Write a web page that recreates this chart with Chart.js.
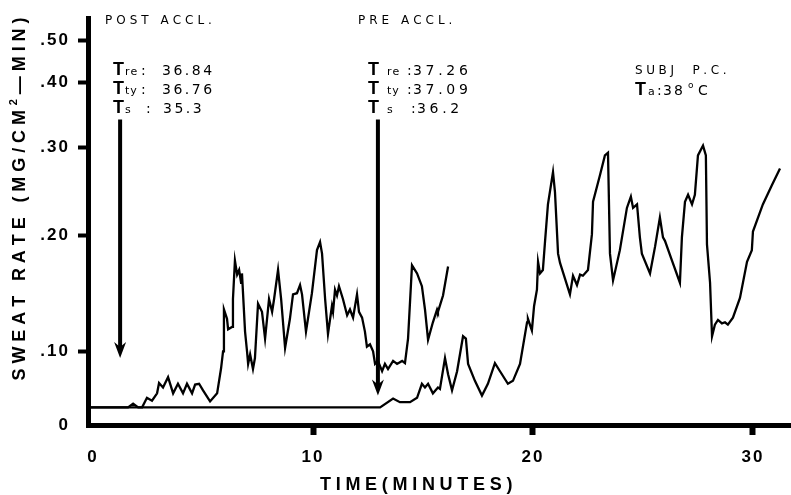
<!DOCTYPE html>
<html>
<head>
<meta charset="utf-8">
<script src="https://cdn.jsdelivr.net/npm/chart.js@4.4.1/dist/chart.umd.min.js"></script>
<style>
  html, body { margin: 0; padding: 0; background: #fff; }
  #wrap { width: 791px; height: 495px; }
</style>
</head>
<body>
<div id="wrap"><canvas id="myChart"></canvas></div>
<script>
// post acclimatisation run (starts sweating early)
const postTime = [
  -0.23, 1.59, 1.82, 2.05, 2.23, 2.45, 2.68, 2.91, 3.00, 3.18,
  3.41, 3.64, 3.86, 4.09, 4.27, 4.50, 4.64, 4.82, 5.00, 5.32,
  5.64, 5.82, 5.91, 5.95, 6.09, 6.14, 6.32, 6.36, 6.45, 6.55,
  6.64, 6.73, 6.77, 6.91, 7.00, 7.05, 7.14, 7.27, 7.36, 7.50,
  7.68, 7.82, 7.91, 8.00, 8.14, 8.23, 8.41, 8.55, 8.73, 8.95,
  9.09, 9.27, 9.41, 9.50, 9.68, 9.95, 10.18, 10.32, 10.41, 10.55,
  10.68, 10.86, 10.91, 11.00, 11.09, 11.18, 11.36, 11.55, 11.68, 11.82,
  12.00, 12.09, 12.23, 12.36, 12.45, 12.59, 12.73, 12.82, 12.95, 13.14,
  13.27, 13.41, 13.64, 13.82, 14.05, 14.18, 14.32, 14.50, 14.73, 14.95,
  15.09, 15.23, 15.45, 15.64, 15.68, 15.91, 16.14
];
const postRate = [
  .024, .024, .029, .024, .024, .037, .033, .043, .057, .051,
  .065, .043, .056, .043, .056, .043, .055, .056, .047, .032,
  .043, .077, .100, .136, .128, .119, .121, .145, .178, .166,
  .170, .159, .167, .117, .100, .083, .096, .076, .091, .141,
  .134, .111, .128, .145, .134, .145, .170, .145, .103, .128,
  .149, .150, .157, .149, .117, .150, .187, .194, .184, .145,
  .115, .139, .134, .153, .148, .156, .145, .131, .136, .129,
  .149, .134, .129, .117, .104, .106, .100, .083, .087, .073,
  .083, .076, .087, .083, .087, .084, .111, .174, .167, .156,
  .136, .110, .125, .136, .134, .148, .173
];

// pre acclimatisation run
const preTime = [
  -0.23, 13.05, 13.64, 13.95, 14.41, 14.73, 14.95, 15.09, 15.23, 15.45,
  15.68, 15.77, 16.00, 16.14, 16.32, 16.55, 16.82, 16.95, 17.05, 17.36,
  17.68, 17.95, 18.27, 18.50, 18.86, 19.09, 19.41, 19.73, 19.77, 19.95,
  20.05, 20.18, 20.23, 20.32, 20.45, 20.55, 20.68, 20.91, 21.00, 21.14,
  21.23, 21.68, 21.82, 22.00, 22.14, 22.27, 22.50, 22.68, 22.73, 23.05,
  23.27, 23.41, 23.50, 23.64, 23.95, 24.27, 24.45, 24.55, 24.73, 24.86,
  24.95, 25.32, 25.55, 25.77, 25.91, 26.00, 26.32, 26.68, 26.77, 26.91,
  27.05, 27.23, 27.36, 27.50, 27.73, 27.86, 27.91, 28.05, 28.14, 28.27,
  28.41, 28.59, 28.73, 28.86, 29.09, 29.41, 29.73, 29.95, 30.00, 30.45,
  30.86, 31.23
];
const preRate = [
  .024, .024, .036, .031, .031, .037, .056, .051, .056, .043,
  .051, .049, .091, .069, .047, .073, .113, .111, .083, .060,
  .040, .056, .084, .073, .056, .060, .083, .125, .128, .118,
  .139, .153, .177, .167, .170, .195, .235, .272, .249, .184,
  .176, .149, .165, .157, .166, .165, .170, .201, .238, .269,
  .291, .294, .184, .161, .187, .231, .244, .231, .235, .198,
  .184, .167, .190, .220, .198, .195, .178, .159, .198, .238,
  .246, .235, .246, .291, .303, .291, .192, .159, .113, .123,
  .127, .124, .125, .123, .129, .146, .177, .187, .204, .235,
  .257, .276
];

const xTickValues = [0, 10, 20, 30];
const yTickValues = [0, .1, .2, .3, .4, .5];
const yTickLabels = ['0', '.10', '.20', '.30', '.40', '.50'];

// the two arrows: time, where the shaft starts and where the tip lands
const arrowTime = [1.23, 12.95];
const arrowFrom = [.343, .343];
const arrowTo = [.091, .040];

// the recorder paper is not linear: rate value -> share of axis height
const rateKnots = [0, .1, .2, .3, .4, .5, .555];
const knotPos = [0, .181, .467, .682, .843, .945, 1];

function interp(v, xs, ys) {
  if (v <= xs[0]) return ys[0] + (v - xs[0]) * (ys[1] - ys[0]) / (xs[1] - xs[0]);
  for (let i = 1; i < xs.length; i++) {
    if (v <= xs[i]) return ys[i - 1] + (v - xs[i - 1]) * (ys[i] - ys[i - 1]) / (xs[i] - xs[i - 1]);
  }
  const n = xs.length - 1;
  return ys[n] + (v - xs[n]) * (ys[n] - ys[n - 1]) / (xs[n] - xs[n - 1]);
}

class SweatScale extends Chart.LinearScale {
  static id = 'sweat';
  getPixelForValue(value) {
    return this.bottom - interp(value, rateKnots, knotPos) * (this.bottom - this.top);
  }
  getValueForPixel(pixel) {
    return interp((this.bottom - pixel) / (this.bottom - this.top), knotPos, rateKnots);
  }
}
Chart.register(SweatScale);

function spaced(ctx, text, x, y, font, gap) {
  ctx.font = font;
  for (const ch of text) {
    ctx.fillText(ch, x, y);
    x += ctx.measureText(ch).width + gap;
  }
  return x;
}
function spacedWidth(ctx, text, font, gap) {
  ctx.font = font;
  let w = 0;
  for (const ch of text) w += ctx.measureText(ch).width + gap;
  return w - gap;
}

const BOLD18 = 'bold 18px "Liberation Sans"';
const SMALL = '12px "DejaVu Sans"';
const SUB = '11px "DejaVu Sans"';
const VAL = '14px "DejaVu Sans"';

function tLine(ctx, tx, sub, sx, cx, val, vx, base, gap) {
  spaced(ctx, 'T', tx, base, BOLD18, 0);
  spaced(ctx, sub, sx, base, SUB, 1);
  spaced(ctx, ':', cx, base, VAL, 0);
  spaced(ctx, val, vx, base, VAL, gap);
}

const notes = {
  id: 'notes',
  beforeDraw(chart) {
    chart.ctx.letterSpacing = '2px';
  },
  afterDraw(chart) {
    const ctx = chart.ctx;
    const xs = chart.scales.x, ys = chart.scales.y;
    ctx.save();
    ctx.letterSpacing = '0px';
    ctx.fillStyle = '#000';
    ctx.strokeStyle = '#000';
    ctx.textAlign = 'left';
    ctx.textBaseline = 'alphabetic';

    // arrows
    arrowTime.forEach((t, i) => {
      const px = xs.getPixelForValue(t);
      const top = ys.getPixelForValue(arrowFrom[i]);
      const tip = ys.getPixelForValue(arrowTo[i]);
      ctx.lineWidth = 4;
      ctx.beginPath();
      ctx.moveTo(px, top);
      ctx.lineTo(px, tip - 8);
      ctx.stroke();
      ctx.beginPath();
      ctx.moveTo(px - 6, tip - 16);
      ctx.lineTo(px, tip);
      ctx.lineTo(px + 6, tip - 16);
      ctx.lineTo(px, tip - 11);
      ctx.closePath();
      ctx.fill();
    });

    // headings
    spaced(ctx, 'POST ACCL.', 105, 24, SMALL, 4);
    spaced(ctx, 'PRE ACCL.', 358, 24, SMALL, 4);

    tLine(ctx, 113, 're', 125, 141, '36.84', 162, 75, 2.5);
    tLine(ctx, 113, 'ty', 125, 141, '36.76', 162, 94, 2.5);
    tLine(ctx, 113, 's', 125, 146, '35.3', 163, 113, 2.5);

    tLine(ctx, 368, 're', 387, 407, '37.26', 413, 75, 3.7);
    tLine(ctx, 368, 'ty', 387, 407, '37.09', 413, 94, 3.7);
    tLine(ctx, 368, 's', 387, 411, '36.2', 417, 113, 3.7);

    spaced(ctx, 'SUBJ  P.C.', 635, 74, SMALL, 3.6);
    spaced(ctx, 'T', 635, 95, BOLD18, 0);
    spaced(ctx, 'a', 648, 95, SUB, 0);
    spaced(ctx, ':', 657, 95, VAL, 0);
    spaced(ctx, '38', 663, 95, VAL, 2);
    spaced(ctx, 'o', 688, 88, '9px "DejaVu Sans"', 0);
    spaced(ctx, 'C', 698, 95, VAL, 0);

    // x title
    spaced(ctx, 'TIME(MINUTES)', 320, 490, BOLD18, 4.7);

    // y title, rotated
    const p1 = 'SWEAT RATE (MG/CM', p2 = '\u2014MIN)';
    const gap = 4.9;
    const w1 = spacedWidth(ctx, p1, BOLD18, gap) + gap;
    const wSup = spacedWidth(ctx, '2', 'bold 11px "Liberation Sans"', 0) + gap;
    const w2 = spacedWidth(ctx, p2, BOLD18, gap);
    const total = w1 + wSup + w2;
    ctx.translate(18, 199);
    ctx.rotate(-Math.PI / 2);
    let tx = -total / 2;
    tx = spaced(ctx, p1, tx, 6.5, BOLD18, gap);
    tx = spaced(ctx, '2', tx, -1, 'bold 11px "Liberation Sans"', gap);
    spaced(ctx, p2, tx, 6.5, BOLD18, gap);
    ctx.restore();
  }
};

const ctx = document.getElementById('myChart');

new Chart(ctx, {
  type: 'line',
  data: {
    datasets: [
      {
        label: 'post accl.',
        data: postTime.map((t, i) => ({ x: t, y: postRate[i] })),
        borderColor: '#000',
        borderWidth: 2.3,
        pointRadius: 0,
        tension: 0
      },
      {
        label: 'pre accl.',
        data: preTime.map((t, i) => ({ x: t, y: preRate[i] })),
        borderColor: '#000',
        borderWidth: 2.3,
        pointRadius: 0,
        tension: 0
      }
    ]
  },
  options: {
    responsive: true,
    maintainAspectRatio: false,
    animation: false,
    layout: { padding: { top: 10, right: 0, bottom: 0, left: 0 } },
    plugins: { legend: { display: false }, tooltip: { enabled: false } },
    scales: {
      x: {
        type: 'linear',
        min: -0.23,
        max: 31.73,
        afterFit: s => { s.height = 70; },
        afterBuildTicks: s => { s.ticks = xTickValues.map(v => ({ value: v })); },
        border: { display: true, width: 5, color: '#000' },
        grid: {
          drawOnChartArea: false,
          tickLength: 10,
          tickWidth: 6,
          tickColor: c => (c.tick && c.tick.value === 0 ? 'rgba(0,0,0,0)' : '#000')
        },
        ticks: {
          autoSkip: false,
          maxRotation: 0,
          padding: 12,
          color: '#000',
          font: { family: 'Liberation Sans', weight: 'bold', size: 17 },
          callback: v => String(v)
        }
      },
      y: {
        type: 'sweat',
        min: 0,
        max: 0.555,
        afterFit: s => { s.width = 88; },
        afterBuildTicks: s => { s.ticks = yTickValues.map(v => ({ value: v })); },
        border: { display: true, width: 5, color: '#000' },
        grid: {
          drawOnChartArea: false,
          tickLength: 10,
          tickWidth: 4,
          tickColor: c => (c.tick && c.tick.value === 0 ? 'rgba(0,0,0,0)' : '#000')
        },
        ticks: {
          autoSkip: false,
          padding: 8,
          color: '#000',
          font: { family: 'Liberation Sans', weight: 'bold', size: 17 },
          callback: (v, i) => yTickLabels[i]
        }
      }
    }
  },
  plugins: [notes]
});
</script>
</body>
</html>
